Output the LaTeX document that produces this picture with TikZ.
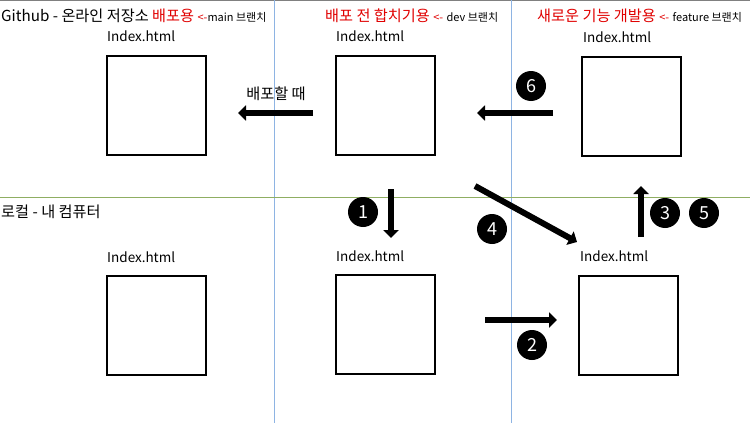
\documentclass[tikz,border=0pt]{standalone}
\usepackage{fontspec}
\setmainfont{Noto Sans CJK KR}
\usepackage{tikz}
\usetikzlibrary{arrows.meta}
\definecolor{lineblue}{HTML}{8EB4E3}
\definecolor{linegreen}{HTML}{8FAE62}
\definecolor{headred}{HTML}{E00000}
\newcommand{\branchsize}{\fontsize{11}{12}\selectfont}

\begin{document}
\begin{tikzpicture}[x=1pt,y=-1pt,
  filebox/.style={draw,line width=2pt,minimum width=99pt,minimum height=99pt,anchor=north west,inner sep=0pt},
  filename/.style={anchor=west,inner sep=0pt,font=\fontsize{13.5}{15}\selectfont},
  header/.style={anchor=west,inner sep=0pt,font=\fontsize{15.2}{17}\selectfont},
  bigarrow/.style={line width=6pt,-{Triangle[length=8pt,width=15pt]}},
  stepnum/.style={circle,fill=black,text=white,minimum size=30pt,inner sep=0pt,font=\fontsize{18}{19}\selectfont}]
   \useasboundingbox (0,0) rectangle (750,423);
   % section lines
   \draw[gray,line width=1pt] (0,0.5) -- (750,0.5);
   \draw[lineblue] (274,0) -- (274,423);
   \draw[lineblue] (511,0) -- (511,423);
   \draw[linegreen] (0,197) -- (750,197);
   % headers
   \node[header] (hdrgit) at (1,16) {Github - 온라인 저장소 \textcolor{headred}{배포용 {\branchsize <-}}{\branchsize main 브랜치}};
   \node[header] (hdrdev) at (325,16) {\textcolor{headred}{배포 전 합치기용 {\branchsize <-}} {\branchsize dev 브랜치}};
   \node[header] (hdrfeat) at (537,16) {\textcolor{headred}{새로운 기능 개발용 {\branchsize <-}} {\branchsize feature 브랜치}};
   \node[header] (hdrlocal) at (1,212) {로컬 - 내 컴퓨터};
   % files
   \node[filebox] (remotemain) at (106,55) {};
   \node[filebox] (remotedev) at (335,55) {};
   \node[filebox] (remotefeat) at (581,56) {};
   \node[filebox] (localmain) at (106,275) {};
   \node[filebox] (localdev) at (335,274) {};
   \node[filebox] (localfeat) at (578,275) {};
   \node[filename] (nremotemain) at (107,36) {Index.html};
   \node[filename] (nremotedev) at (336,36) {Index.html};
   \node[filename] (nremotefeat) at (583,37) {Index.html};
   \node[filename] (nlocalmain) at (107,257) {Index.html};
   \node[filename] (nlocaldev) at (336,256) {Index.html};
   \node[filename] (nlocalfeat) at (580,256) {Index.html};
   % arrows
   \coordinate (deployS) at (313,113);
   \coordinate (deployE) at (238,113);
   \coordinate (mergeS) at (553,113);
   \coordinate (mergeE) at (477,113);
   \coordinate (pullS) at (391,189);
   \coordinate (pullE) at (391,238);
   \coordinate (branchS) at (475,186);
   \coordinate (branchE) at (577,242);
   \coordinate (pushS) at (641,237);
   \coordinate (pushE) at (641,186);
   \coordinate (copyS) at (485,320);
   \coordinate (copyE) at (557,320);
   \draw[bigarrow] (deployS) -- (deployE);
   \draw[bigarrow] (mergeS) -- (mergeE);
   \draw[bigarrow] (pullS) -- (pullE);
   \draw[bigarrow] (branchS) -- (branchE);
   \draw[bigarrow] (pushS) -- (pushE);
   \draw[bigarrow] (copyS) -- (copyE);
   \node[header,anchor=center] (deploytxt) at (276,94) {배포할 때};
   % steps
   \node[stepnum] (step1) at (363,212) {1};
   \node[stepnum] (step2) at (532,345) {2};
   \node[stepnum] (step3) at (665,213) {3};
   \node[stepnum] (step4) at (492,229) {4};
   \node[stepnum] (step5) at (704,213) {5};
   \node[stepnum] (step6) at (531,86) {6};
\end{tikzpicture}
\end{document}
